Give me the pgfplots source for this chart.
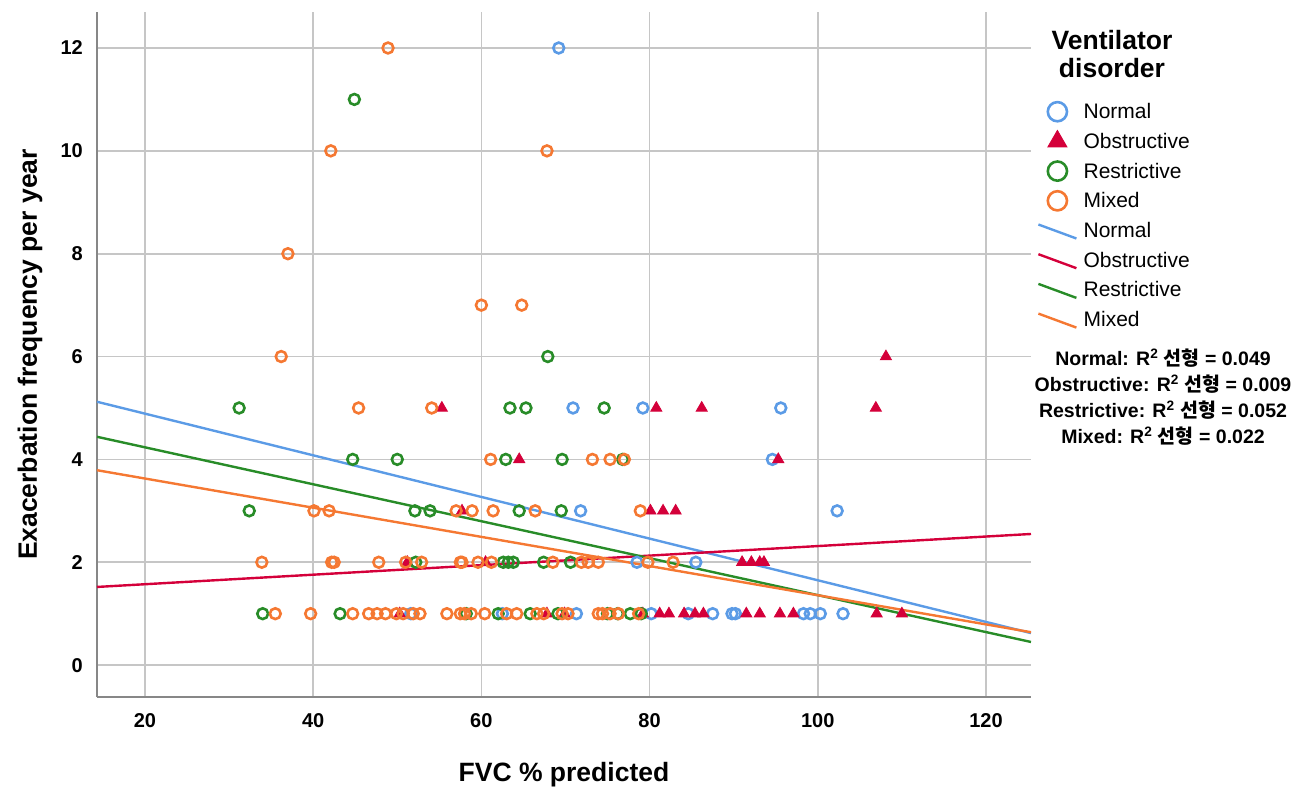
\documentclass[border=0pt]{standalone}
\usepackage{pgfplots}
\pgfplotsset{compat=1.18}
\usepackage{fontspec}
\setmainfont{Liberation Sans}
\newfontfamily\kr{Noto Sans CJK KR}
\definecolor{cNormal}{RGB}{91,155,230}
\definecolor{cObst}{RGB}{212,0,58}
\definecolor{cRestr}{RGB}{40,140,40}
\definecolor{cMixed}{RGB}{245,120,50}
\definecolor{gridgray}{RGB}{198,198,198}
\definecolor{axgray}{RGB}{135,135,135}

\pgfplotsset{
  mleg/.style={legend image code/.code={
    \path[draw=none, fill=none] (0pt,-14pt) rectangle (38pt,14pt);
    \pgfinterruptboundingbox
    \draw[##1, mark size=#1] plot coordinates {(19pt,3pt)};
    \endpgfinterruptboundingbox}},
  lleg/.style={legend image code/.code={
    \path[draw=none, fill=none] (0pt,-14pt) rectangle (38pt,14pt);
    \draw[##1] (0pt,9pt) -- (38pt,-5pt);}},
}

\begin{document}
\begin{tikzpicture}[x=1pt,y=1pt]
\useasboundingbox (-97,-93) rectangle (1201,697);
\begin{axis}[
  at={(0,0)}, anchor=south west,
  width=934pt, height=685pt, scale only axis,
  xmin=14.3, xmax=125.35, ymin=-0.62, ymax=12.7,
  xtick={20,40,...,120}, ytick={0,2,...,12},
  axis lines*=left,
  axis line style={axgray, line width=2pt},
  grid=major,
  major grid style={gridgray, line width=1.6pt},
  major tick length=0pt,
  /pgf/number format/assume math mode=true,
  tick label style={font=\bfseries\fontsize{20}{24}\selectfont, inner sep=0pt},
  yticklabel style={anchor=east, xshift=-14pt},
  xticklabel style={anchor=north, yshift=-16pt},
  every axis x label/.style={at={(axis description cs:0.5,-0.1139)}, anchor=center},
  every axis y label/.style={at={(axis description cs:-0.0717,0.5)}, rotate=90, anchor=center},
  label style={font=\bfseries\fontsize{26.5}{30}\selectfont},
  xlabel={FVC \% predicted},
  ylabel={Exacerbation frequency per year},
  legend style={draw=none, fill=none, inner sep=0pt,
    at={(axis description cs:1,1)}, anchor=north west, xshift=6pt, yshift=-88.5pt,
    font=\fontsize{21}{25}\selectfont, row sep=1.7pt, column sep=6pt,
    nodes={inner sep=0pt, text height=15pt, text depth=7pt}},
  legend cell align=left,
]
% Normal
\addplot[only marks, mark=o, mark size=5.4pt, cNormal, line width=2.6pt, mleg=9.6pt] coordinates {
(69.2,12) (70.9,5) (79.2,5) (95.6,5) (94.6,4) (71.8,3) (102.3,3) (78.5,2) (85.5,2)
(51.6,1) (62.5,1) (71.3,1) (80.2,1) (84.6,1) (87.5,1) (89.8,1) (90.2,1) (98.3,1)
(99.1,1) (100.3,1) (103.0,1)};
\addlegendentry{Normal}
% Obstructive
\addplot[only marks, mark=triangle*, mark size=6.4pt, cObst, line width=0.8pt, mleg=11pt] coordinates {
(108.1,6) (55.3,5) (80.8,5) (86.2,5) (106.9,5) (64.5,4) (95.3,4) (57.7,3) (80.1,3)
(81.6,3) (83.1,3) (51.2,2) (60.5,2) (91.0,2) (92.1,2) (93.1,2) (93.6,2) (50.3,1)
(67.8,1) (69.9,1) (79.2,1) (81.2,1) (82.3,1) (84.1,1) (85.4,1) (86.4,1) (91.5,1)
(93.1,1) (95.5,1) (97.1,1) (107.0,1) (110.0,1)};
\addlegendentry{Obstructive}
% Restrictive
\addplot[only marks, mark=o, mark size=5.4pt, cRestr, line width=2.6pt, mleg=9.6pt] coordinates {
(44.9,11) (67.9,6) (31.2,5) (63.4,5) (65.3,5) (74.6,5) (44.7,4) (50.0,4) (62.9,4)
(69.6,4) (76.8,4) (32.4,3) (52.1,3) (53.9,3) (64.5,3) (69.5,3) (52.2,2) (62.6,2)
(63.2,2) (63.8,2) (67.4,2) (70.6,2) (34.0,1) (43.2,1) (58.2,1) (62.0,1) (65.8,1)
(69.1,1) (75.0,1) (76.2,1) (77.7,1) (79.0,1)};
\addlegendentry{Restrictive}
% Mixed
\addplot[only marks, mark=o, mark size=5.4pt, cMixed, line width=2.6pt, mleg=9.6pt] coordinates {
(48.9,12) (42.1,10) (67.8,10) (37.0,8) (60.0,7) (64.8,7) (36.2,6) (45.4,5) (54.1,5)
(61.1,4) (73.2,4) (75.3,4) (77.0,4) (40.1,3) (41.9,3) (57.0,3) (58.9,3) (61.4,3)
(66.4,3) (78.9,3) (33.9,2) (42.2,2) (42.5,2) (47.8,2) (51.0,2) (52.9,2) (57.5,2)
(57.7,2) (59.6,2) (61.2,2) (68.5,2) (71.9,2) (72.7,2) (73.9,2) (79.8,2) (82.8,2)
(35.5,1) (39.7,1) (44.7,1) (46.6,1) (47.6,1) (48.6,1) (49.9,1) (50.7,1) (51.9,1)
(52.7,1) (55.9,1) (57.5,1) (58.0,1) (58.8,1) (60.4,1) (63.0,1) (64.2,1) (66.6,1)
(67.4,1) (69.6,1) (70.3,1) (73.9,1) (74.4,1) (75.3,1) (76.3,1) (78.7,1)};
\addlegendentry{Mixed}
% fit lines
\addplot[cNormal, line width=2.4pt, lleg] coordinates {(14.3,5.121) (125.35,0.623)};
\addlegendentry{Normal}
\addplot[cObst, line width=2.4pt, lleg] coordinates {(14.3,1.52) (125.35,2.55)};
\addlegendentry{Obstructive}
\addplot[cRestr, line width=2.4pt, lleg] coordinates {(14.3,4.44) (125.35,0.45)};
\addlegendentry{Restrictive}
\addplot[cMixed, line width=2.4pt, lleg] coordinates {(14.3,3.79) (125.35,0.64)};
\addlegendentry{Mixed}
\end{axis}
\node[font=\bfseries\fontsize{26.5}{28}\selectfont, align=center] at (1015,643) {Ventilator\\disorder};
\node[font=\bfseries\fontsize{19.5}{26}\selectfont, align=center] at (1066,300)
  {Normal: R\textsuperscript{2} {\kr 선형} = 0.049\\
   Obstructive: R\textsuperscript{2} {\kr 선형} = 0.009\\
   Restrictive: R\textsuperscript{2} {\kr 선형} = 0.052\\
   Mixed: R\textsuperscript{2} {\kr 선형} = 0.022};
\end{tikzpicture}
\end{document}
